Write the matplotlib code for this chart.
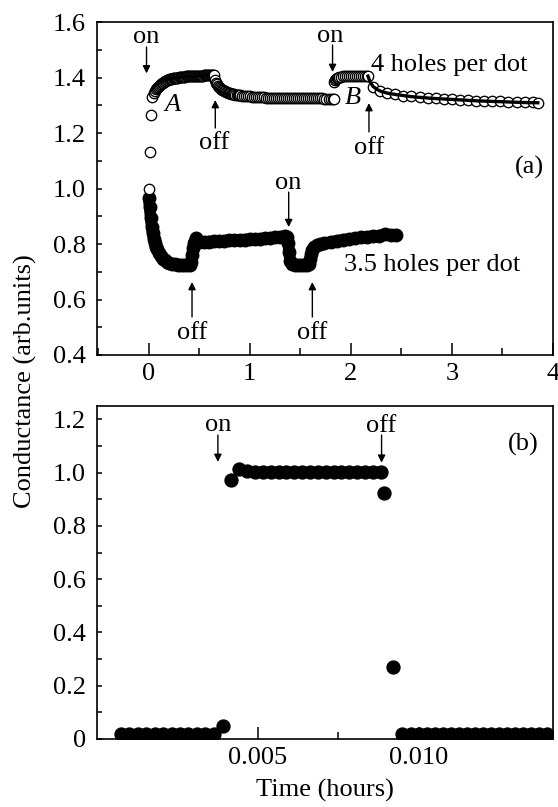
import matplotlib
matplotlib.use("Agg")
import matplotlib.pyplot as plt
from matplotlib.ticker import MultipleLocator, FixedLocator, FixedFormatter

plt.rcParams['font.family'] = ['Liberation Serif', 'DejaVu Serif']

# ---------------- data: panel (a) ----------------
# 4 holes per dot: light on (A)
a_t = [0.0, 0.01, 0.02, 0.035,
       0.05, 0.06, 0.07, 0.08, 0.09, 0.10, 0.11, 0.12, 0.13, 0.14,
       0.15, 0.16, 0.17, 0.18, 0.19, 0.20, 0.21, 0.22, 0.23, 0.24,
       0.25, 0.26, 0.27, 0.28, 0.29, 0.30, 0.31, 0.32, 0.33, 0.34,
       0.35, 0.36, 0.37, 0.38, 0.39, 0.40, 0.41, 0.42, 0.43, 0.44,
       0.45, 0.46, 0.47, 0.48, 0.49, 0.50, 0.51, 0.52, 0.53, 0.54,
       0.55, 0.56, 0.57, 0.58, 0.59, 0.60, 0.61, 0.62, 0.63, 0.64,
       0.65]
a_v = [1.000, 1.133, 1.265, 1.331,
       1.345, 1.351, 1.357, 1.362, 1.366, 1.370, 1.373, 1.376, 1.379, 1.382,
       1.384, 1.386, 1.388, 1.390, 1.391, 1.393, 1.394, 1.395, 1.396, 1.397,
       1.398, 1.398, 1.399, 1.400, 1.400, 1.401, 1.401, 1.402, 1.402, 1.403,
       1.403, 1.403, 1.404, 1.404, 1.404, 1.405, 1.405, 1.405, 1.405, 1.406,
       1.406, 1.406, 1.406, 1.406, 1.407, 1.407, 1.407, 1.407, 1.407, 1.407,
       1.408, 1.408, 1.408, 1.408, 1.408, 1.408, 1.409, 1.409, 1.409, 1.409,
       1.409]
# 4 holes per dot: light off
c_t = [0.66, 0.67, 0.68, 0.69, 0.70, 0.71, 0.72, 0.73, 0.74, 0.75,
       0.76, 0.77, 0.78, 0.79, 0.80, 0.81, 0.82, 0.83, 0.84, 0.85,
       0.86, 0.87, 0.88, 0.89, 0.90,
       0.92, 0.94, 0.96, 0.98, 1.00, 1.02, 1.04, 1.06, 1.08, 1.10,
       1.12, 1.14, 1.16, 1.18, 1.20, 1.22, 1.24, 1.26, 1.28, 1.30,
       1.32, 1.34, 1.36, 1.38, 1.40, 1.42, 1.44, 1.46, 1.48, 1.50,
       1.52, 1.54, 1.56, 1.58, 1.60, 1.62, 1.64, 1.66, 1.68, 1.70,
       1.72, 1.74, 1.76, 1.78, 1.80, 1.82, 1.83]
c_v = [1.391, 1.382, 1.375, 1.370, 1.366, 1.362, 1.359, 1.356, 1.354, 1.352,
       1.350, 1.348, 1.347, 1.345, 1.344, 1.343, 1.342, 1.341, 1.340, 1.339,
       1.338, 1.338, 1.337, 1.336, 1.336,
       1.335, 1.334, 1.333, 1.332, 1.332, 1.331, 1.331, 1.330, 1.330, 1.329,
       1.329, 1.329, 1.328, 1.328, 1.328, 1.328, 1.327, 1.327, 1.327, 1.327,
       1.327, 1.326, 1.326, 1.326, 1.326, 1.326, 1.326, 1.326, 1.325, 1.325,
       1.325, 1.325, 1.325, 1.325, 1.325, 1.325, 1.325, 1.325, 1.325, 1.325,
       1.325, 1.324, 1.324, 1.324, 1.324, 1.324, 1.324]
# 4 holes per dot: light on again (B)
b_t = [1.83, 1.84, 1.85, 1.86, 1.87, 1.88, 1.90, 1.92, 1.94, 1.96,
       1.98, 2.00, 2.02, 2.04, 2.06, 2.08, 2.10, 2.12, 2.14, 2.16,
       2.17]
b_v = [1.385, 1.391, 1.395, 1.398, 1.400, 1.402, 1.403, 1.404, 1.404, 1.405,
       1.405, 1.405, 1.406, 1.406, 1.406, 1.406, 1.407, 1.407, 1.407, 1.407,
       1.407]
# 4 holes per dot: light off again
d_t = [2.22, 2.29, 2.36, 2.44, 2.52, 2.60, 2.68, 2.76, 2.84, 2.92, 3.00, 3.08, 3.16, 3.24, 3.32,
       3.40, 3.48, 3.56, 3.64, 3.72, 3.80, 3.85]
d_v = [1.365, 1.352, 1.345, 1.339, 1.335, 1.332, 1.329, 1.327, 1.325, 1.323, 1.321, 1.320, 1.318,
       1.317, 1.316, 1.315, 1.314, 1.313, 1.312, 1.311, 1.310, 1.309]
# fit curve over the last decay
fit_t = [2.17, 2.19, 2.22, 2.26, 2.30, 2.36, 2.44, 2.52, 2.60, 2.70, 2.80, 2.95, 3.10, 3.25, 3.40,
         3.55, 3.70, 3.85]
fit_v = [1.405, 1.385, 1.368, 1.357, 1.350, 1.344, 1.339, 1.335, 1.331, 1.328, 1.325, 1.322, 1.319,
         1.316, 1.314, 1.312, 1.310, 1.309]
# 3.5 holes per dot
h_t = [0.0, 0.01, 0.02, 0.03, 0.04, 0.05, 0.06, 0.07, 0.08, 0.10, 0.12, 0.14, 0.16, 0.18, 0.20,
       0.23, 0.26, 0.29, 0.32, 0.35, 0.38, 0.41, 0.42, 0.43, 0.44, 0.45, 0.47, 0.50, 0.55, 0.60,
       0.65, 0.70, 0.75, 0.80, 0.85, 0.90, 0.95, 1.00, 1.05, 1.10, 1.15, 1.20, 1.25, 1.30, 1.35,
       1.37, 1.38, 1.39, 1.40, 1.42, 1.45, 1.48, 1.51, 1.54, 1.57, 1.59, 1.60, 1.61, 1.62, 1.64,
       1.67, 1.70, 1.74, 1.80, 1.86, 1.92, 1.98, 2.04, 2.10, 2.16, 2.22, 2.28, 2.34, 2.40, 2.45]
h_v = [0.965, 0.935, 0.895, 0.862, 0.838, 0.818, 0.803, 0.791, 0.781, 0.766, 0.755, 0.747, 0.741,
       0.736, 0.732, 0.729, 0.727, 0.726, 0.725, 0.724, 0.724, 0.724, 0.735, 0.760, 0.785, 0.805,
       0.823, 0.808, 0.808, 0.809, 0.810, 0.811, 0.812, 0.813, 0.814, 0.815, 0.816, 0.817, 0.818,
       0.819, 0.820, 0.822, 0.824, 0.826, 0.828, 0.826, 0.805, 0.770, 0.740, 0.727, 0.724, 0.724,
       0.724, 0.724, 0.724, 0.728, 0.745, 0.765, 0.778, 0.788, 0.795, 0.799, 0.803, 0.807, 0.811,
       0.815, 0.818, 0.821, 0.824, 0.826, 0.828, 0.830, 0.836, 0.833, 0.834]

# ---------------- data: panel (b) ----------------
p_t = [0.00075, 0.00101, 0.00127, 0.00153, 0.00179, 0.00205, 0.00232, 0.00258, 0.00284, 0.00310,
       0.00337, 0.00363, 0.00391, 0.00416, 0.00442, 0.00467, 0.00491, 0.00516, 0.00540, 0.00565,
       0.00589, 0.00613, 0.00638, 0.00662, 0.00687, 0.00711, 0.00736, 0.00760, 0.00784, 0.00809,
       0.00833, 0.00858, 0.00882, 0.00894, 0.00922, 0.00950, 0.00975, 0.01000, 0.01025, 0.01050,
       0.01075, 0.01100, 0.01125, 0.01150, 0.01175, 0.01200, 0.01225, 0.01250, 0.01275, 0.01300,
       0.01325, 0.01350, 0.01375, 0.01400]
p_v = [0.02, 0.02, 0.02, 0.02, 0.02, 0.02, 0.02, 0.02, 0.02, 0.02,
       0.02, 0.02, 0.05, 0.973, 1.014, 1.005, 1.004, 1.004, 1.004, 1.004,
       1.004, 1.004, 1.004, 1.004, 1.004, 1.004, 1.004, 1.004, 1.004, 1.004,
       1.004, 1.004, 1.004, 0.924, 0.271, 0.02, 0.02, 0.02, 0.02, 0.02,
       0.02, 0.02, 0.02, 0.02, 0.02, 0.02, 0.02, 0.02, 0.02, 0.02,
       0.02, 0.02, 0.02, 0.02]

xticks_a = [0, 1, 2, 3, 4]
xtick_labels_a = ['0', '1', '2', '3', '4']
yticks_a = [0.4, 0.6, 0.8, 1.0, 1.2, 1.4, 1.6]
ytick_labels_a = ['0.4', '0.6', '0.8', '1.0', '1.2', '1.4', '1.6']
xticks_b = [0.005, 0.010]
xtick_labels_b = ['0.005', '0.010']
yticks_b = [0.0, 0.2, 0.4, 0.6, 0.8, 1.0, 1.2]
ytick_labels_b = ['0', '0.2', '0.4', '0.6', '0.8', '1.0', '1.2']

FS = 19

fig = plt.figure(figsize=(5.58, 8.07), dpi=100)
ax1 = fig.add_axes([0.1738, 0.5601, 0.8172, 0.4126])
ax2 = fig.add_axes([0.1738, 0.0843, 0.8172, 0.4126])

open_style = dict(linestyle='none', marker='o', ms=7.5, mfc='white', mec='black', mew=0.95)

# panel (a)
ax1.plot(h_t, h_v, '-', color='black', lw=8.3, marker='o', ms=9,
         solid_joinstyle='round', solid_capstyle='round', zorder=2)
ax1.plot(a_t, a_v, **open_style, zorder=3)
ax1.plot(c_t, c_v, **open_style, zorder=3)
ax1.plot(b_t, b_v, **open_style, zorder=3)
ax1.plot(d_t, d_v, **open_style, zorder=3)
ax1.plot(fit_t, fit_v, '-', color='black', lw=2.4, zorder=4)

ax1.set_xlim(-0.51, 4.0)
ax1.set_ylim(0.4, 1.6)
ax1.xaxis.set_major_locator(FixedLocator(xticks_a))
ax1.xaxis.set_major_formatter(FixedFormatter(xtick_labels_a))
ax1.xaxis.set_minor_locator(MultipleLocator(0.5))
ax1.yaxis.set_major_locator(FixedLocator(yticks_a))
ax1.yaxis.set_major_formatter(FixedFormatter(ytick_labels_a))
ax1.yaxis.set_minor_locator(MultipleLocator(0.1))

# panel (b)
ax2.plot(p_t, p_v, linestyle='none', marker='o', ms=9.3, color='black', zorder=3)
ax2.set_xlim(0.0, 0.01418)
ax2.set_ylim(0.0, 1.25)
ax2.xaxis.set_major_locator(FixedLocator(xticks_b))
ax2.xaxis.set_major_formatter(FixedFormatter(xtick_labels_b))
ax2.xaxis.set_minor_locator(FixedLocator([0.0025, 0.0075, 0.0125]))
ax2.yaxis.set_major_locator(FixedLocator(yticks_b))
ax2.yaxis.set_major_formatter(FixedFormatter(ytick_labels_b))
ax2.yaxis.set_minor_locator(MultipleLocator(0.1))

for ax in (ax1, ax2):
    for sp in ax.spines.values():
        sp.set_linewidth(1.2)
    ax.tick_params(axis='x', which='major', direction='in', length=8.5, width=1.1,
                   labelsize=FS, pad=6, top=False)
    ax.tick_params(axis='x', which='minor', direction='in', length=5, width=1.1, top=False)
    ax.tick_params(axis='y', which='both', direction='in', length=3.6, width=1.1,
                   labelsize=FS, pad=8, right=False)

def arrow(ax, x, y0, y1):
    ax.annotate('', xy=(x, y1), xytext=(x, y0),
                arrowprops=dict(arrowstyle='-|>', color='black', lw=1.0,
                                mutation_scale=11, shrinkA=0, shrinkB=0), zorder=5)

# annotations (a)
ax1.text(-0.02, 1.546, 'on', ha='center', va='center', fontsize=FS)
arrow(ax1, -0.02, 1.51, 1.415)
ax1.text(0.235, 1.30, 'A', ha='center', va='center', fontsize=FS, style='italic')
ax1.text(0.65, 1.164, 'off', ha='center', va='center', fontsize=FS)
arrow(ax1, 0.66, 1.218, 1.319)
ax1.text(1.80, 1.55, 'on', ha='center', va='center', fontsize=FS)
arrow(ax1, 1.82, 1.517, 1.42)
ax1.text(2.20, 1.445, '4 holes per dot', ha='left', va='center', fontsize=FS)
ax1.text(2.02, 1.326, 'B', ha='center', va='center', fontsize=FS, style='italic')
ax1.text(2.18, 1.146, 'off', ha='center', va='center', fontsize=FS)
arrow(ax1, 2.18, 1.204, 1.308)
ax1.text(3.77, 1.077, '(a)', ha='center', va='center', fontsize=FS)
ax1.text(1.38, 1.02, 'on', ha='center', va='center', fontsize=FS)
arrow(ax1, 1.386, 0.987, 0.861)
ax1.text(0.43, 0.479, 'off', ha='center', va='center', fontsize=FS)
arrow(ax1, 0.43, 0.537, 0.663)
ax1.text(1.62, 0.479, 'off', ha='center', va='center', fontsize=FS)
arrow(ax1, 1.62, 0.537, 0.663)
ax1.text(1.93, 0.724, '3.5 holes per dot', ha='left', va='center', fontsize=FS)

# annotations (b)
ax2.text(0.00376, 1.179, 'on', ha='center', va='center', fontsize=FS)
arrow(ax2, 0.00376, 1.141, 1.04)
ax2.text(0.00885, 1.175, 'off', ha='center', va='center', fontsize=FS)
arrow(ax2, 0.00885, 1.141, 1.037)
ax2.text(0.01326, 1.104, '(b)', ha='center', va='center', fontsize=FS)

fig.text(0.045, 0.528, 'Conductance (arb.units)', rotation=90, ha='center', va='center',
         fontsize=FS)
fig.text(0.5824, 0.021, 'Time (hours)', ha='center', va='center', fontsize=FS)

fig.savefig('out.png', dpi=100)
